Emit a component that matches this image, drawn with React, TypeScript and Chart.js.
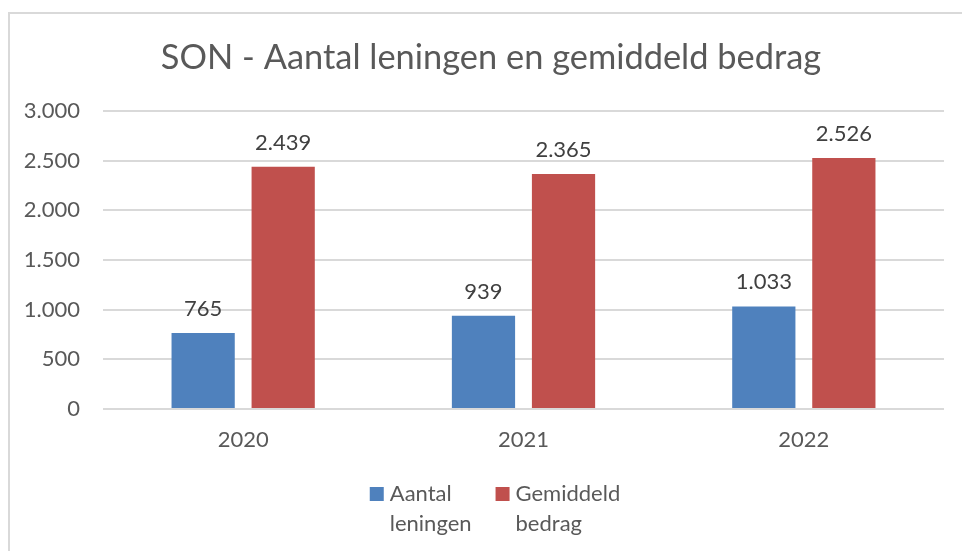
import React, { useEffect, useRef } from "react";
import { Chart, registerables } from "chart.js";

Chart.register(...registerables);

const categories = ["2020", "2021", "2022"];
const aantalLeningen = [765, 939, 1033];
const gemiddeldBedrag = [2439, 2365, 2526];
const seriesNames = ["Aantal leningen", "Gemiddeld bedrag"];
const seriesColors = ["#4F81BD", "#C0504D"];
const titleText = "SON - Aantal leningen en gemiddeld bedrag";
const yMax = 3000;
const yStep = 500;

const FONT = "Lato, 'Open Sans', sans-serif";

function fmt(n: number): string {
  return Math.round(n)
    .toString()
    .replace(/\B(?=(\d{3})+(?!\d))/g, ".");
}

const dataLabelPlugin = {
  id: "dataLabels",
  afterDatasetsDraw(chart: any) {
    const ctx = chart.ctx;
    ctx.save();
    ctx.font = `22px ${FONT}`;
    ctx.fillStyle = "#404040";
    ctx.textAlign = "center";
    ctx.textBaseline = "alphabetic";
    chart.data.datasets.forEach((ds: any, di: number) => {
      const meta = chart.getDatasetMeta(di);
      meta.data.forEach((el: any, i: number) => {
        ctx.fillText(fmt(ds.data[i]), el.x, el.y - 17);
      });
    });
    ctx.restore();
  },
};

const legendPlugin = {
  id: "wrapLegend",
  afterDraw(chart: any) {
    const ctx = chart.ctx;
    ctx.save();
    ctx.font = `22px ${FONT}`;
    const box = 14;
    const boxGap = 6;
    const itemGap = 24;
    const lineH = 30;
    const items = chart.data.datasets.map((ds: any) => {
      const lines = String(ds.label).split(" ");
      const w = Math.max(...lines.map((l: string) => ctx.measureText(l).width));
      return { lines, w, color: ds.backgroundColor };
    });
    const total =
      items.reduce((s: number, it: any) => s + box + boxGap + it.w, 0) +
      itemGap * (items.length - 1);
    let x = 495 - total / 2;
    const y0 = 494;
    items.forEach((it: any) => {
      ctx.fillStyle = it.color;
      ctx.fillRect(x, y0 - box / 2, box, box);
      ctx.fillStyle = "#595959";
      ctx.textAlign = "left";
      ctx.textBaseline = "middle";
      it.lines.forEach((l: string, li: number) => {
        ctx.fillText(l, x + box + boxGap, y0 + li * lineH);
      });
      x += box + boxGap + it.w + itemGap;
    });
    ctx.restore();
  },
};

export default function App() {
  const ref = useRef<HTMLCanvasElement | null>(null);

  useEffect(() => {
    if (!ref.current) return;
    const chart = new Chart(ref.current, {
      type: "bar",
      data: {
        labels: categories,
        datasets: [
          {
            label: seriesNames[0],
            data: aantalLeningen,
            backgroundColor: seriesColors[0],
            categoryPercentage: 0.571,
            barPercentage: 0.79,
          },
          {
            label: seriesNames[1],
            data: gemiddeldBedrag,
            backgroundColor: seriesColors[1],
            categoryPercentage: 0.571,
            barPercentage: 0.79,
          },
        ],
      },
      options: {
        responsive: false,
        animation: false,
        devicePixelRatio: 1,
        layout: { padding: { left: 20, right: 0, top: 0, bottom: 92 } },
        plugins: {
          legend: { display: false },
          tooltip: { enabled: false },
          title: {
            display: true,
            text: titleText,
            color: "#595959",
            font: { family: FONT, size: 34.4, weight: "normal", lineHeight: 1.2 },
            padding: { top: 37, bottom: 32.7 },
          },
        },
        scales: {
          x: {
            grid: { display: false, drawTicks: false },
            border: { display: false },
            ticks: {
              color: "#595959",
              font: { family: FONT, size: 22 },
              padding: 18,
            },
            afterFit(scale: any) {
              scale.height = 50;
            },
          },
          y: {
            min: 0,
            max: yMax,
            grid: { color: "#d9d9d9", lineWidth: 2, drawTicks: false },
            border: { display: false },
            ticks: {
              stepSize: yStep,
              color: "#595959",
              font: { family: FONT, size: 22 },
              padding: 23,
              callback: (v: any) => fmt(Number(v)),
            },
            afterFit(scale: any) {
              scale.width = 83;
            },
          },
          yRight: {
            position: "right",
            min: 0,
            max: yMax,
            grid: { display: false, drawTicks: false },
            border: { display: false },
            ticks: { display: false },
            afterFit(scale: any) {
              scale.width = 18;
            },
          },
        },
      },
      plugins: [dataLabelPlugin, legendPlugin],
    });
    return () => chart.destroy();
  }, []);

  return (
    <div
      style={{
        position: "fixed",
        left: 0,
        top: 0,
        width: 962,
        height: 551,
        overflow: "hidden",
        background: "#ffffff",
      }}
    >
      <div
        style={{
          position: "absolute",
          left: 8,
          top: 12,
          width: 1000,
          height: 600,
          borderLeft: "2px solid #d9d9d9",
          borderTop: "2px solid #d9d9d9",
        }}
      />
      <canvas
        ref={ref}
        width={962}
        height={551}
        style={{ position: "absolute", left: 0, top: 0, width: 962, height: 551 }}
      />
    </div>
  );
}
